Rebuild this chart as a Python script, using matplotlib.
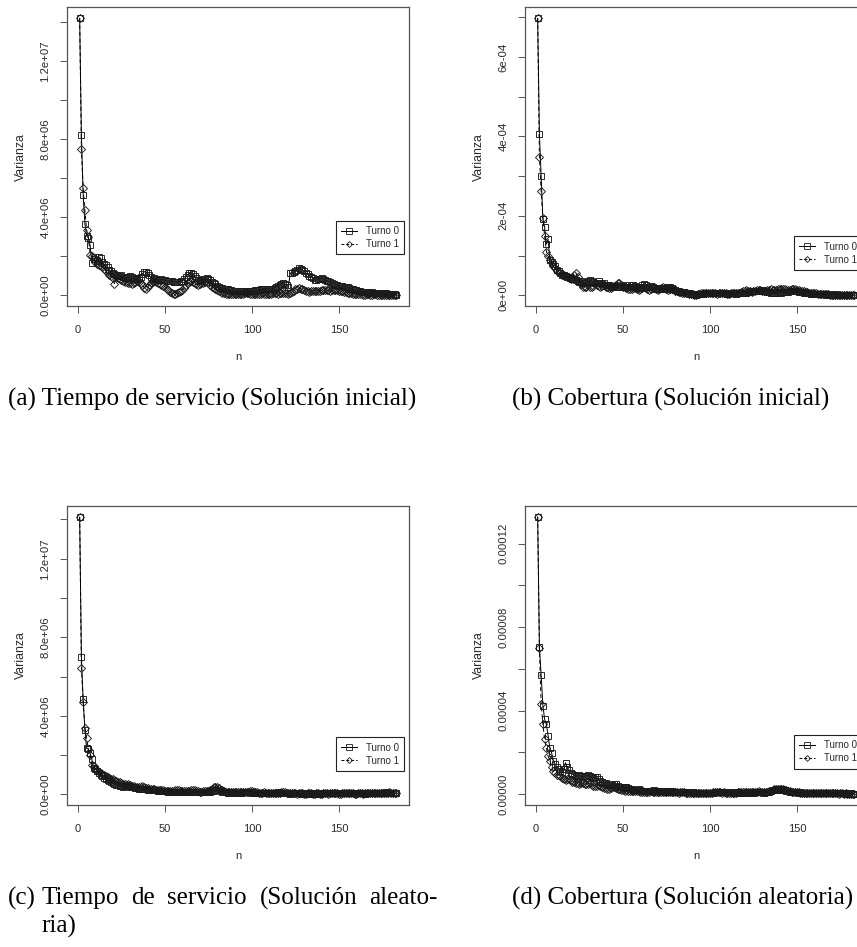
#!/usr/bin/env python3
"""Varianza vs n para Turno 0 / Turno 1 (cuatro paneles, estilo R)."""

import numpy as np
import matplotlib
matplotlib.use("Agg")
import matplotlib.pyplot as plt
from matplotlib import font_manager
from matplotlib.lines import Line2D

W, H = 857, 947

n = np.arange(1, 184)

# (a) Tiempo de servicio, solución inicial  (x 1e6)
a_turno0 = [
    14.2, 8.2, 5.16, 3.66, 3.05, 2.94, 2.57, 1.67, 1.85, 1.95,
    1.75, 1.98, 1.90, 1.70, 1.60, 1.55, 1.45, 1.30, 1.25, 1.15,
    1.10, 1.05, 0.98, 1.00, 1.05, 0.95, 0.90, 0.88, 0.92, 0.98,
    0.95, 0.90, 0.85, 0.82, 0.88, 0.95, 1.10, 1.20, 1.22, 1.15,
    1.02, 0.92, 0.85, 0.88, 0.82, 0.80, 0.78, 0.82, 0.80, 0.78,
    0.76, 0.74, 0.72, 0.74, 0.70, 0.68, 0.66, 0.68, 0.72, 0.75,
    0.85, 0.95, 1.05, 1.12, 1.15, 1.08, 0.98, 0.90, 0.80, 0.76,
    0.78, 0.82, 0.86, 0.88, 0.84, 0.78, 0.70, 0.63, 0.56, 0.50,
    0.45, 0.40, 0.38, 0.35, 0.32, 0.30, 0.28, 0.25, 0.24, 0.22,
    0.22, 0.21, 0.20, 0.22, 0.20, 0.19, 0.20, 0.21, 0.20, 0.22,
    0.24, 0.26, 0.25, 0.28, 0.30, 0.32, 0.35, 0.33, 0.35, 0.30,
    0.32, 0.35, 0.40, 0.45, 0.50, 0.55, 0.60, 0.62, 0.58, 0.55,
    0.41, 1.15, 1.12, 1.18, 1.25, 1.32, 1.38, 1.35, 1.30, 1.25,
    1.15, 1.08, 1.00, 0.95, 0.88, 0.80, 0.78, 0.82, 0.86, 0.88,
    0.85, 0.80, 0.75, 0.72, 0.68, 0.62, 0.58, 0.55, 0.52, 0.50,
    0.48, 0.46, 0.45, 0.44, 0.42, 0.38, 0.35, 0.32, 0.28, 0.25,
    0.22, 0.20, 0.18, 0.17, 0.16, 0.15, 0.15, 0.14, 0.15, 0.14,
    0.14, 0.13, 0.14, 0.13, 0.12, 0.11, 0.10, 0.09, 0.08, 0.07,
    0.06, 0.05, 0.04,
]
a_turno1 = [
    14.2, 7.48, 5.5, 4.35, 3.35, 3.0, 2.08, 2.0, 1.85, 1.70,
    1.60, 1.55, 1.50, 1.45, 1.35, 1.25, 1.15, 1.05, 1.00, 0.90,
    0.60, 0.95, 0.90, 0.85, 0.80, 0.75, 0.70, 0.68, 0.65, 0.62,
    0.60, 0.65, 0.70, 0.72, 0.68, 0.62, 0.55, 0.40, 0.35, 0.42,
    0.55, 0.65, 0.70, 0.72, 0.70, 0.65, 0.60, 0.55, 0.50, 0.45,
    0.35, 0.25, 0.15, 0.10, 0.08, 0.07, 0.10, 0.15, 0.20, 0.28,
    0.40, 0.52, 0.62, 0.70, 0.72, 0.68, 0.62, 0.58, 0.55, 0.58,
    0.62, 0.65, 0.68, 0.70, 0.65, 0.55, 0.45, 0.38, 0.30, 0.25,
    0.20, 0.15, 0.12, 0.10, 0.08, 0.07, 0.06, 0.05, 0.05, 0.06,
    0.07, 0.08, 0.08, 0.07, 0.08, 0.10, 0.12, 0.10, 0.08, 0.07,
    0.06, 0.05, 0.05, 0.06, 0.08, 0.10, 0.08, 0.06, 0.05, 0.06,
    0.08, 0.10, 0.12, 0.10, 0.08, 0.10, 0.12, 0.14, 0.12, 0.10,
    0.08, 0.10, 0.15, 0.22, 0.30, 0.35, 0.36, 0.33, 0.30, 0.25,
    0.22, 0.20, 0.18, 0.20, 0.22, 0.24, 0.22, 0.20, 0.22, 0.25,
    0.26, 0.28, 0.26, 0.25, 0.24, 0.25, 0.27, 0.28, 0.26, 0.24,
    0.22, 0.20, 0.18, 0.16, 0.14, 0.12, 0.10, 0.09, 0.08, 0.07,
    0.06, 0.05, 0.05, 0.04, 0.04, 0.05, 0.05, 0.04, 0.04, 0.05,
    0.05, 0.04, 0.04, 0.03, 0.04, 0.04, 0.03, 0.03, 0.03, 0.02,
    0.02, 0.02, 0.02,
]

# (b) Cobertura, solución inicial  (x 1e-4)
b_turno0 = [
    6.97, 4.06, 3.0, 1.93, 1.71, 1.29, 1.41, 0.89, 0.85, 0.80,
    0.75, 0.65, 0.60, 0.55, 0.50, 0.52, 0.48, 0.45, 0.47, 0.44,
    0.42, 0.40, 0.38, 0.35, 0.33, 0.35, 0.32, 0.30, 0.33, 0.35,
    0.38, 0.36, 0.33, 0.30, 0.32, 0.35, 0.30, 0.28, 0.30, 0.27,
    0.25, 0.26, 0.24, 0.22, 0.23, 0.21, 0.22, 0.20, 0.22, 0.24,
    0.25, 0.22, 0.20, 0.22, 0.25, 0.27, 0.24, 0.20, 0.18, 0.22,
    0.25, 0.28, 0.26, 0.22, 0.20, 0.24, 0.22, 0.18, 0.15, 0.16,
    0.18, 0.17, 0.15, 0.16, 0.18, 0.20, 0.21, 0.19, 0.16, 0.14,
    0.12, 0.10, 0.09, 0.08, 0.08, 0.07, 0.06, 0.05, 0.04, 0.03,
    0.03, 0.02, 0.03, 0.03, 0.04, 0.04, 0.05, 0.05, 0.06, 0.05,
    0.05, 0.06, 0.05, 0.06, 0.07, 0.06, 0.05, 0.06, 0.05, 0.04,
    0.05, 0.05, 0.06, 0.05, 0.04, 0.05, 0.06, 0.07, 0.06, 0.05,
    0.06, 0.08, 0.09, 0.10, 0.11, 0.12, 0.12, 0.11, 0.12, 0.13,
    0.12, 0.10, 0.09, 0.08, 0.07, 0.06, 0.07, 0.06, 0.07, 0.08,
    0.07, 0.08, 0.09, 0.08, 0.09, 0.10, 0.10, 0.11, 0.10, 0.10,
    0.09, 0.08, 0.08, 0.07, 0.06, 0.05, 0.05, 0.04, 0.04, 0.03,
    0.04, 0.03, 0.03, 0.04, 0.03, 0.03, 0.02, 0.03, 0.02, 0.02,
    0.02, 0.03, 0.02, 0.02, 0.02, 0.01, 0.02, 0.02, 0.01, 0.01,
    0.01, 0.01, 0.01,
]
b_turno1 = [
    6.97, 3.48, 2.62, 1.95, 1.49, 1.10, 1.00, 0.90, 0.82, 0.75,
    0.70, 0.62, 0.58, 0.55, 0.52, 0.50, 0.48, 0.46, 0.44, 0.42,
    0.45, 0.50, 0.55, 0.45, 0.35, 0.28, 0.22, 0.20, 0.22, 0.25,
    0.22, 0.20, 0.24, 0.28, 0.26, 0.23, 0.21, 0.24, 0.26, 0.22,
    0.20, 0.18, 0.19, 0.21, 0.23, 0.25, 0.30, 0.32, 0.26, 0.22,
    0.20, 0.18, 0.16, 0.15, 0.17, 0.19, 0.18, 0.15, 0.14, 0.16,
    0.18, 0.20, 0.19, 0.16, 0.14, 0.15, 0.18, 0.20, 0.17, 0.14,
    0.15, 0.18, 0.20, 0.18, 0.16, 0.14, 0.15, 0.17, 0.15, 0.12,
    0.10, 0.09, 0.08, 0.07, 0.06, 0.05, 0.05, 0.04, 0.03, 0.03,
    0.02, 0.02, 0.03, 0.04, 0.05, 0.06, 0.07, 0.06, 0.05, 0.06,
    0.07, 0.06, 0.05, 0.04, 0.05, 0.06, 0.07, 0.06, 0.05, 0.04,
    0.04, 0.05, 0.06, 0.07, 0.06, 0.05, 0.06, 0.08, 0.10, 0.12,
    0.13, 0.12, 0.10, 0.09, 0.10, 0.12, 0.13, 0.14, 0.13, 0.12,
    0.11, 0.12, 0.13, 0.14, 0.15, 0.14, 0.13, 0.14, 0.15, 0.16,
    0.17, 0.16, 0.15, 0.14, 0.13, 0.14, 0.15, 0.16, 0.15, 0.14,
    0.13, 0.12, 0.11, 0.10, 0.09, 0.08, 0.07, 0.06, 0.06, 0.05,
    0.05, 0.04, 0.04, 0.04, 0.03, 0.03, 0.03, 0.03, 0.02, 0.02,
    0.02, 0.02, 0.02, 0.02, 0.01, 0.01, 0.02, 0.01, 0.01, 0.01,
    0.01, 0.01, 0.01,
]

# (c) Tiempo de servicio, solución aleatoria  (x 1e6)
c_turno0 = [
    14.12, 7.0, 4.84, 3.30, 2.36, 2.30, 2.10, 1.80, 1.33, 1.30,
    1.20, 1.10, 1.00, 0.95, 0.85, 0.80, 0.75, 0.70, 0.65, 0.60,
    0.55, 0.50, 0.48, 0.45, 0.42, 0.40, 0.42, 0.45, 0.42, 0.40,
    0.38, 0.36, 0.35, 0.33, 0.30, 0.30, 0.28, 0.27, 0.26, 0.25,
    0.24, 0.22, 0.21, 0.20, 0.20, 0.19, 0.18, 0.17, 0.16, 0.15,
    0.15, 0.14, 0.14, 0.13, 0.13, 0.12, 0.12, 0.13, 0.14, 0.12,
    0.11, 0.10, 0.11, 0.12, 0.13, 0.12, 0.11, 0.10, 0.10, 0.11,
    0.12, 0.13, 0.12, 0.11, 0.10, 0.12, 0.15, 0.18, 0.20, 0.22,
    0.20, 0.17, 0.14, 0.12, 0.10, 0.09, 0.09, 0.10, 0.09, 0.08,
    0.08, 0.07, 0.08, 0.09, 0.10, 0.12, 0.14, 0.12, 0.10, 0.09,
    0.08, 0.07, 0.07, 0.06, 0.07, 0.08, 0.07, 0.06, 0.06, 0.05,
    0.06, 0.07, 0.08, 0.09, 0.10, 0.09, 0.08, 0.07, 0.06, 0.05,
    0.05, 0.04, 0.05, 0.05, 0.06, 0.07, 0.06, 0.05, 0.04, 0.04,
    0.05, 0.05, 0.04, 0.04, 0.05, 0.06, 0.05, 0.04, 0.04, 0.05,
    0.06, 0.07, 0.06, 0.05, 0.05, 0.06, 0.08, 0.09, 0.08, 0.07,
    0.06, 0.05, 0.05, 0.06, 0.07, 0.08, 0.07, 0.06, 0.05, 0.05,
    0.06, 0.07, 0.06, 0.05, 0.04, 0.05, 0.06, 0.07, 0.08, 0.07,
    0.06, 0.05, 0.05, 0.06, 0.07, 0.08, 0.10, 0.09, 0.08, 0.07,
    0.08, 0.09, 0.07,
]
c_turno1 = [
    14.12, 6.46, 4.70, 3.40, 2.87, 2.30, 2.00, 1.50, 1.45, 1.30,
    1.25, 1.15, 1.10, 1.05, 1.00, 0.95, 0.90, 0.85, 0.80, 0.78,
    0.72, 0.68, 0.65, 0.62, 0.60, 0.55, 0.52, 0.50, 0.52, 0.48,
    0.45, 0.42, 0.40, 0.38, 0.36, 0.40, 0.42, 0.38, 0.35, 0.32,
    0.30, 0.28, 0.27, 0.26, 0.25, 0.24, 0.23, 0.22, 0.20, 0.19,
    0.18, 0.17, 0.17, 0.16, 0.18, 0.20, 0.22, 0.20, 0.18, 0.16,
    0.15, 0.15, 0.16, 0.18, 0.20, 0.22, 0.20, 0.18, 0.15, 0.14,
    0.14, 0.15, 0.16, 0.15, 0.18, 0.25, 0.30, 0.36, 0.40, 0.38,
    0.32, 0.25, 0.20, 0.16, 0.14, 0.13, 0.12, 0.12, 0.11, 0.12,
    0.13, 0.14, 0.12, 0.11, 0.10, 0.11, 0.12, 0.14, 0.16, 0.15,
    0.13, 0.11, 0.10, 0.09, 0.08, 0.09, 0.10, 0.09, 0.08, 0.07,
    0.07, 0.08, 0.09, 0.08, 0.07, 0.08, 0.10, 0.12, 0.10, 0.08,
    0.06, 0.05, 0.05, 0.06, 0.05, 0.04, 0.05, 0.06, 0.05, 0.04,
    0.04, 0.05, 0.06, 0.05, 0.04, 0.04, 0.05, 0.05, 0.04, 0.04,
    0.05, 0.06, 0.05, 0.04, 0.05, 0.06, 0.07, 0.06, 0.05, 0.04,
    0.04, 0.05, 0.06, 0.07, 0.08, 0.07, 0.06, 0.05, 0.04, 0.04,
    0.05, 0.06, 0.05, 0.04, 0.05, 0.06, 0.07, 0.08, 0.07, 0.06,
    0.05, 0.06, 0.07, 0.06, 0.05, 0.06, 0.07, 0.09, 0.10, 0.08,
    0.07, 0.06, 0.05,
]

# (d) Cobertura, solución aleatoria  (x 1e-5)
d_turno0 = [
    13.27, 7.04, 5.70, 4.24, 3.58, 3.34, 2.80, 2.22, 1.98, 1.60,
    1.45, 1.30, 1.20, 1.10, 1.05, 1.20, 1.50, 1.30, 1.15, 1.00,
    0.95, 0.90, 0.85, 0.88, 0.90, 0.85, 0.82, 0.85, 0.88, 0.90,
    0.85, 0.80, 0.78, 0.82, 0.80, 0.70, 0.62, 0.58, 0.55, 0.55,
    0.50, 0.45, 0.42, 0.45, 0.50, 0.48, 0.40, 0.35, 0.32, 0.30,
    0.32, 0.35, 0.30, 0.25, 0.22, 0.20, 0.18, 0.20, 0.22, 0.18,
    0.15, 0.14, 0.15, 0.16, 0.15, 0.14, 0.16, 0.18, 0.17, 0.15,
    0.14, 0.15, 0.16, 0.14, 0.12, 0.13, 0.14, 0.13, 0.12, 0.11,
    0.10, 0.11, 0.12, 0.11, 0.10, 0.09, 0.10, 0.11, 0.10, 0.08,
    0.07, 0.06, 0.05, 0.06, 0.05, 0.04, 0.05, 0.06, 0.05, 0.04,
    0.05, 0.07, 0.09, 0.11, 0.12, 0.11, 0.10, 0.09, 0.10, 0.11,
    0.10, 0.09, 0.08, 0.07, 0.06, 0.07, 0.08, 0.07, 0.06, 0.06,
    0.07, 0.08, 0.07, 0.06, 0.07, 0.08, 0.10, 0.11, 0.10, 0.08,
    0.07, 0.08, 0.10, 0.12, 0.15, 0.18, 0.20, 0.22, 0.21, 0.20,
    0.22, 0.20, 0.18, 0.16, 0.14, 0.12, 0.10, 0.09, 0.08, 0.08,
    0.07, 0.08, 0.07, 0.06, 0.05, 0.06, 0.05, 0.04, 0.05, 0.04,
    0.05, 0.04, 0.04, 0.05, 0.04, 0.03, 0.04, 0.05, 0.04, 0.03,
    0.04, 0.03, 0.04, 0.03, 0.03, 0.04, 0.03, 0.02, 0.03, 0.02,
    0.03, 0.02, 0.02,
]
d_turno1 = [
    13.27, 7.00, 4.30, 3.34, 2.62, 2.20, 1.82, 1.60, 1.30, 1.10,
    1.00, 0.92, 0.90, 0.88, 0.75, 0.70, 0.68, 0.72, 0.70, 0.65,
    0.60, 0.58, 0.55, 0.52, 0.50, 0.52, 0.55, 0.50, 0.48, 0.50,
    0.52, 0.45, 0.40, 0.38, 0.40, 0.42, 0.38, 0.34, 0.30, 0.28,
    0.26, 0.25, 0.28, 0.32, 0.35, 0.30, 0.25, 0.22, 0.20, 0.18,
    0.17, 0.18, 0.16, 0.15, 0.14, 0.13, 0.14, 0.15, 0.13, 0.12,
    0.11, 0.12, 0.11, 0.10, 0.12, 0.13, 0.12, 0.11, 0.10, 0.09,
    0.10, 0.11, 0.10, 0.09, 0.08, 0.09, 0.10, 0.11, 0.10, 0.09,
    0.08, 0.07, 0.08, 0.09, 0.08, 0.07, 0.06, 0.07, 0.06, 0.05,
    0.05, 0.04, 0.05, 0.06, 0.07, 0.06, 0.05, 0.04, 0.05, 0.06,
    0.07, 0.08, 0.09, 0.10, 0.09, 0.08, 0.07, 0.08, 0.07, 0.06,
    0.07, 0.06, 0.05, 0.06, 0.07, 0.08, 0.09, 0.10, 0.09, 0.08,
    0.09, 0.10, 0.11, 0.10, 0.09, 0.10, 0.12, 0.13, 0.12, 0.10,
    0.09, 0.10, 0.12, 0.14, 0.17, 0.20, 0.23, 0.24, 0.25, 0.24,
    0.25, 0.23, 0.21, 0.18, 0.16, 0.14, 0.12, 0.11, 0.10, 0.09,
    0.08, 0.07, 0.06, 0.07, 0.06, 0.05, 0.06, 0.05, 0.04, 0.05,
    0.04, 0.05, 0.04, 0.03, 0.04, 0.03, 0.04, 0.03, 0.03, 0.04,
    0.03, 0.04, 0.03, 0.02, 0.03, 0.03, 0.02, 0.03, 0.02, 0.02,
    0.02, 0.02, 0.02,
]

x_ticks = [0, 50, 100, 150]
ticks_tiempo = [0, 2e6, 4e6, 6e6, 8e6, 1e7, 1.2e7, 1.4e7]
labels_tiempo = ["0.0e+00", "", "4.0e+06", "", "8.0e+06", "", "1.2e+07", ""]
ticks_cob_ini = [0, 1e-4, 2e-4, 3e-4, 4e-4, 5e-4, 6e-4, 7e-4]
labels_cob_ini = ["0e+00", "", "2e-04", "", "4e-04", "", "6e-04", ""]
ticks_cob_ale = [0, 2e-5, 4e-5, 6e-5, 8e-5, 1e-4, 1.2e-4]
labels_cob_ale = ["0.00000", "", "0.00004", "", "0.00008", "", "0.00012"]

series_labels = ["Turno 0", "Turno 1"]

captions = [
    "(a) Tiempo de servicio (Solución inicial)",
    "(b) Cobertura (Solución inicial)",
    "(c)",
    "(d) Cobertura (Solución aleatoria)",
]
caption_c_lines = ["Tiempo de servicio (Solución aleato-", "ria)"]

TXT = "#2a2a2a"
BOX = "#555555"
SERIF = ["Liberation Serif", "DejaVu Serif"]


def pick_sans():
    # the R output was squeezed horizontally; a narrow face looks closer
    try:
        font_manager.findfont("Liberation Sans Narrow", fallback_to_default=False)
        return ["Liberation Sans Narrow", "DejaVu Sans"], 1.0
    except Exception:
        return ["Liberation Sans", "DejaVu Sans"], 0.84


SANS, FS = pick_sans()


def add_panel(fig, left, top, y0, y1, scale, ticks, labels, legend_bottom):
    bottom = top + 298.7
    ax = fig.add_axes([left / W, 1 - bottom / H, 342 / W, 298.7 / H])
    v0 = np.array(y0) * scale
    v1 = np.array(y1) * scale

    ax.plot(n, v0, color="black", lw=0.7, ls="-", marker="s", ms=5.0,
            mfc="none", mec="#1a1a1a", mew=0.65)
    ax.plot(n, v1, color="black", lw=0.7, ls=(0, (4, 3)), marker="D", ms=3.6,
            mfc="none", mec="#1a1a1a", mew=0.65)

    span = n.max() - n.min()
    ax.set_xlim(n.min() - 0.04 * span, n.max() + 0.04 * span)
    lo = min(v0.min(), v1.min())
    hi = max(v0.max(), v1.max())
    ax.set_ylim(lo - 0.04 * (hi - lo), hi + 0.04 * (hi - lo))

    ax.set_xticks(x_ticks)
    ax.set_xticklabels([str(t) for t in x_ticks], fontsize=9.5 * FS, color=TXT, family=SANS)
    ax.set_yticks(ticks)
    ax.set_yticklabels(labels, fontsize=9.8 * FS, color=TXT, family=SANS,
                       rotation=90, va="center")
    ax.tick_params(direction="out", length=5, width=0.7, color=BOX)
    ax.tick_params(axis="x", pad=9)
    ax.tick_params(axis="y", pad=7)
    for sp in ax.spines.values():
        sp.set_color(BOX)
        sp.set_linewidth(0.9)

    ax.set_xlabel("n", fontsize=9.5 * FS, color=TXT, family=SANS, labelpad=12)
    ax.set_ylabel("Varianza", fontsize=10.5 * FS, color=TXT, family=SANS, labelpad=10)

    handles = [
        Line2D([], [], color="black", lw=0.7, ls="-", marker="s", ms=4.0,
               mfc="none", mec="#1a1a1a", mew=0.6),
        Line2D([], [], color="black", lw=0.7, ls=(0, (3, 2)), marker="D", ms=3.0,
               mfc="none", mec="#1a1a1a", mew=0.6),
    ]
    leg = ax.legend(handles, series_labels, loc="lower right",
                    bbox_to_anchor=(1 - 5 / 342, legend_bottom), borderaxespad=0,
                    fancybox=False, framealpha=1, edgecolor="#222222",
                    prop={"family": SANS, "size": 8.4 * FS}, handlelength=1.6,
                    handletextpad=0.9, labelspacing=0.3, borderpad=0.55)
    leg.get_frame().set_linewidth(0.8)
    for t in leg.get_texts():
        t.set_color(TXT)
    return ax


def justified_line(fig, text, x0, x1, y, **kw):
    # spread the words so the line fills x0..x1, like the LaTeX caption
    words = text.split(" ")
    renderer = fig.canvas.get_renderer()
    widths = []
    for w in words:
        t = fig.text(0, 0, w, **kw)
        widths.append(t.get_window_extent(renderer).width)
        t.remove()
    gap = (x1 - x0 - sum(widths)) / (len(words) - 1)
    x = x0
    for w, wd in zip(words, widths):
        fig.text(x / W, 1 - y / H, w, **kw)
        x += wd + gap


def main():
    fig = plt.figure(figsize=(W / 100, H / 100), dpi=100)

    add_panel(fig, 67, 7.3, a_turno0, a_turno1, 1e6, ticks_tiempo, labels_tiempo, 0.173)
    add_panel(fig, 525, 7.3, b_turno0, b_turno1, 1e-4, ticks_cob_ini, labels_cob_ini, 0.12)
    add_panel(fig, 67, 506, c_turno0, c_turno1, 1e6, ticks_tiempo, labels_tiempo, 0.113)
    add_panel(fig, 525, 506, d_turno0, d_turno1, 1e-5, ticks_cob_ale, labels_cob_ale, 0.121)

    cap = dict(fontsize=18.1, family=SERIF, color="black", va="center", ha="left")
    fig.text(8 / W, 1 - 399 / H, captions[0], **cap)
    fig.text(512 / W, 1 - 399 / H, captions[1], **cap)
    fig.text(8 / W, 1 - 898 / H, captions[2], **cap)
    justified_line(fig, caption_c_lines[0], 41, 438, 898, **cap)
    fig.text(41 / W, 1 - 926 / H, caption_c_lines[1], **cap)
    fig.text(512 / W, 1 - 898 / H, captions[3], **cap)

    fig.savefig("out.png", dpi=100)
    plt.close(fig)


if __name__ == "__main__":
    main()
